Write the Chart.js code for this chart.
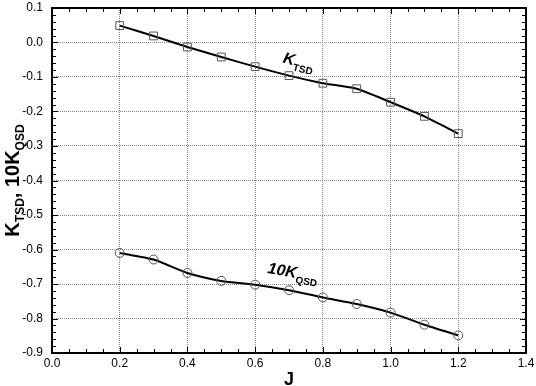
<!DOCTYPE html>
<html>
<head>
<meta charset="utf-8">
<script src="https://cdn.jsdelivr.net/npm/chart.js@4.4.0/dist/chart.umd.min.js"></script>
<style>
  html, body { margin: 0; padding: 0; background: #fff; }
  canvas { display: block; }
</style>
</head>
<body>
<canvas id="myChart" width="536" height="386"></canvas>
<script>
// advance ratio values
const advanceRatio = [0.2, 0.3, 0.4, 0.5, 0.6, 0.7, 0.8, 0.9, 1.0, 1.1, 1.2];
// thrust coefficient (K_TSD)
const kTSD = [0.049, 0.019, -0.013, -0.042, -0.070, -0.096, -0.118, -0.134, -0.173, -0.214, -0.264];
// 10 x torque coefficient (10K_QSD)
const kQSD10 = [-0.610, -0.629, -0.668, -0.691, -0.702, -0.718, -0.739, -0.758, -0.783, -0.818, -0.849];

const FONT = '"Liberation Sans", Arial, Helvetica, sans-serif';

const toPoints = (ys) => advanceRatio.map((x, i) => ({ x: x, y: ys[i] }));

// draws frame, inward minor ticks, axis titles and curve labels
const decorations = {
  id: 'decorations',
  afterDraw(chart) {
    const c = chart.ctx;
    const a = chart.chartArea;
    const xs = chart.scales.x;
    const ys = chart.scales.y;
    c.save();

    // inward ticks on all four sides
    c.strokeStyle = '#000';
    c.lineWidth = 1;
    c.beginPath();
    for (let k = 0; k <= 28; k++) {
      const v = k * 0.05;
      const px = Math.round(xs.getPixelForValue(v)) + 0.5;
      const len = (k % 4 === 0) ? 6 : 4;
      c.moveTo(px, a.bottom); c.lineTo(px, a.bottom - len);
      c.moveTo(px, a.top); c.lineTo(px, a.top + len);
    }
    for (let k = 0; k <= 50; k++) {
      const v = 0.1 - k * 0.02;
      const py = Math.round(ys.getPixelForValue(v)) + 0.5;
      const len = (k % 5 === 0) ? 6 : 4;
      c.moveTo(a.left, py); c.lineTo(a.left + len, py);
      c.moveTo(a.right, py); c.lineTo(a.right - len, py);
    }
    c.stroke();

    // frame
    c.lineWidth = 2;
    c.strokeRect(a.left, a.top, a.right - a.left, a.bottom - a.top);

    // x title
    c.fillStyle = '#000';
    c.font = 'bold 18px ' + FONT;
    c.textAlign = 'center';
    c.textBaseline = 'alphabetic';
    c.fillText('J', (a.left + a.right) / 2, 385);

    // y title with subscripts
    const parts = [
      ['K', 'bold 20px ', 0],
      ['TSD', 'bold 12px ', 5],
      [', 10', 'bold 20px ', 0],
      ['K', 'bold 20px ', 0],
      ['QSD', 'bold 12px ', 5]
    ];
    let total = 0;
    parts.forEach(p => { c.font = p[1] + FONT; total += c.measureText(p[0]).width; });
    c.save();
    c.translate(19, (a.top + a.bottom) / 2);
    c.rotate(-Math.PI / 2);
    c.textAlign = 'left';
    let pos = -total / 2;
    parts.forEach(p => {
      c.font = p[1] + FONT;
      c.fillText(p[0], pos, p[2]);
      pos += c.measureText(p[0]).width;
    });
    c.restore();

    // curve labels
    const label = (x, y, angle, main, sub) => {
      c.save();
      c.translate(xs.getPixelForValue(x), ys.getPixelForValue(y));
      c.rotate(angle * Math.PI / 180);
      c.textAlign = 'left';
      c.font = 'italic bold 16px ' + FONT;
      c.fillText(main, 0, 0);
      const w = c.measureText(main).width;
      c.font = 'bold 10px ' + FONT;
      c.fillText(sub, w, 5);
      c.restore();
    };
    label(0.68, -0.058, 14, 'K', 'TSD');
    label(0.635, -0.668, 10, '10K', 'QSD');

    c.restore();
  }
};

const ctx = document.getElementById('myChart');

const myChart = new Chart(ctx, {
  type: 'scatter',
  data: {
    datasets: [{
      label: 'K_TSD',
      data: toPoints(kTSD),
      showLine: true,
      borderColor: '#000',
      borderWidth: 2,
      tension: 0.2,
      pointStyle: 'rect',
      pointRadius: 5.5,
      pointBorderColor: '#555',
      pointBackgroundColor: 'rgba(0,0,0,0)',
      pointBorderWidth: 1
    }, {
      label: '10K_QSD',
      data: toPoints(kQSD10),
      showLine: true,
      borderColor: '#000',
      borderWidth: 2,
      tension: 0.2,
      pointStyle: 'circle',
      pointRadius: 4.5,
      pointBorderColor: '#555',
      pointBackgroundColor: 'rgba(0,0,0,0)',
      pointBorderWidth: 1
    }]
  },
  options: {
    responsive: false,
    animation: false,
    layout: { padding: { left: 0, right: 10, top: 8, bottom: 0 } },
    plugins: { legend: { display: false }, tooltip: { enabled: false } },
    scales: {
      x: {
        type: 'linear',
        min: 0, max: 1.4,
        afterFit(scale) { scale.height = 33; scale.paddingLeft = 0; scale.paddingRight = 0; },
        ticks: {
          stepSize: 0.2,
          padding: 3,
          color: '#000',
          font: { family: FONT, size: 12 },
          callback: (v) => v.toFixed(1)
        },
        grid: { color: '#888', drawTicks: false, lineWidth: 1 },
        border: { display: false, dash: [1, 1] }
      },
      y: {
        min: -0.9, max: 0.1,
        afterFit(scale) { scale.width = 52; scale.paddingTop = 0; scale.paddingBottom = 0; },
        ticks: {
          stepSize: 0.1,
          padding: 9,
          color: '#000',
          font: { family: FONT, size: 12 },
          callback: (v) => v.toFixed(1)
        },
        grid: { color: '#888', drawTicks: false, lineWidth: 1 },
        border: { display: false, dash: [1, 1] }
      }
    }
  },
  plugins: [decorations]
});
</script>
</body>
</html>
